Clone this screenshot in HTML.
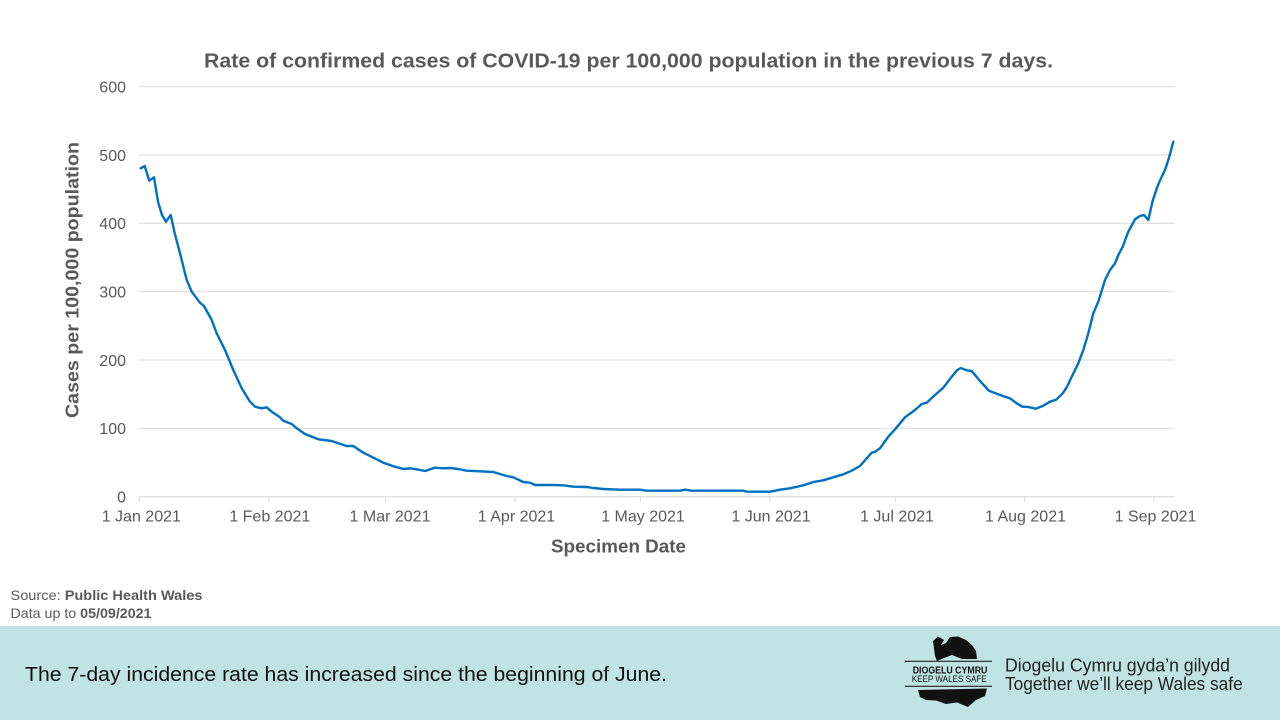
<!DOCTYPE html>
<html>
<head>
<meta charset="utf-8">
<style>
  html,body{margin:0;padding:0;background:#ffffff;}
  body{width:1280px;height:720px;overflow:hidden;position:relative;}
  svg{position:absolute;left:0;top:0;}
</style>
</head>
<body>
<svg width="1280" height="720" viewBox="0 0 1280 720" xmlns="http://www.w3.org/2000/svg">
  <rect x="0" y="0" width="1280" height="720" fill="#ffffff"/>

  <!-- Title -->
  <text x="204" y="67.3" font-family="Liberation Sans, Arial, sans-serif" font-weight="bold" font-size="20" fill="#595959" textLength="849" lengthAdjust="spacingAndGlyphs">Rate of confirmed cases of COVID-19  per 100,000 population in the previous 7 days.</text>

  <!-- Gridlines -->
  <g stroke="#d9d9d9" stroke-width="1">
    <line x1="139" y1="86.7" x2="1175" y2="86.7"/>
    <line x1="139" y1="155" x2="1175" y2="155"/>
    <line x1="139" y1="223.3" x2="1175" y2="223.3"/>
    <line x1="139" y1="291.7" x2="1175" y2="291.7"/>
    <line x1="139" y1="360" x2="1175" y2="360"/>
    <line x1="139" y1="428.3" x2="1175" y2="428.3"/>
    <line x1="139" y1="496.7" x2="1175" y2="496.7"/>
    <!-- ticks -->
    <line x1="139.3" y1="496.7" x2="139.3" y2="502"/>
    <line x1="268.8" y1="496.7" x2="268.8" y2="502"/>
    <line x1="385.7" y1="496.7" x2="385.7" y2="502"/>
    <line x1="515.1" y1="496.7" x2="515.1" y2="502"/>
    <line x1="640.4" y1="496.7" x2="640.4" y2="502"/>
    <line x1="769.9" y1="496.7" x2="769.9" y2="502"/>
    <line x1="895.2" y1="496.7" x2="895.2" y2="502"/>
    <line x1="1024.6" y1="496.7" x2="1024.6" y2="502"/>
    <line x1="1154.1" y1="496.7" x2="1154.1" y2="502"/>
  </g>

  <!-- Y labels -->
  <g font-family="Liberation Sans, Arial, sans-serif" font-size="16" fill="#595959" text-anchor="end">
    <text x="126" y="92.5">600</text>
    <text x="126" y="160.8">500</text>
    <text x="126" y="229.1">400</text>
    <text x="126" y="297.5">300</text>
    <text x="126" y="365.8">200</text>
    <text x="126" y="434.1">100</text>
    <text x="126" y="502.5">0</text>
  </g>

  <!-- X labels -->
  <g font-family="Liberation Sans, Arial, sans-serif" font-size="16" fill="#595959" text-anchor="middle">
    <text x="141.3" y="521.5">1 Jan 2021</text>
    <text x="269.8" y="521.5">1 Feb 2021</text>
    <text x="390" y="521.5">1 Mar 2021</text>
    <text x="516.5" y="521.5">1 Apr 2021</text>
    <text x="643" y="521.5">1 May 2021</text>
    <text x="771" y="521.5">1 Jun 2021</text>
    <text x="897" y="521.5">1 Jul 2021</text>
    <text x="1025.5" y="521.5">1 Aug 2021</text>
    <text x="1155.5" y="521.5">1 Sep 2021</text>
  </g>

  <!-- Axis titles -->
  <text x="551" y="552.5" font-family="Liberation Sans, Arial, sans-serif" font-weight="bold" font-size="18" fill="#595959" textLength="135" lengthAdjust="spacingAndGlyphs">Specimen Date</text>
  <text transform="translate(78.5,418) rotate(-90)" x="0" y="0" font-family="Liberation Sans, Arial, sans-serif" font-weight="bold" font-size="18" fill="#595959" textLength="276" lengthAdjust="spacingAndGlyphs">Cases per 100,000 population</text>

  <!-- Data line -->
  <polyline fill="none" stroke="#0070c0" stroke-width="2.4" stroke-linejoin="round" stroke-linecap="round" points="
140.7,168.3 144.7,166 149.3,180.7 154,177.3 158,201.7 162,215 166,221.7 170.7,215 174.7,233.3 180,253.3
186.7,280 191.7,291.7 200,302.7 204,306 211.7,320 216.7,333.3 225,350 233.3,370 241.7,388.3 250,401.7
255,406.7 261.7,408.3 266.7,407.3 271.7,411.7 279.3,416.7 283.3,420.7 291.7,424 296.7,428.3 305,434
318.3,439.3 331.7,441 346.7,446 353.3,446 363.3,452.7 376.7,459.3 383.3,462.7 395,466.7 403.3,469
410,468.3 416.7,469.3 425,471 435,467.7 443.3,468.3 450,468 458.3,469 466.7,470.7 480,471.3 493.3,472
506.7,476 513.3,477.3 523.3,482 530,482.7 535,485 553.3,485 563.3,485.3 573.3,486.7 586.7,487
593.3,488 603.3,489 620,489.7 640,489.7 646.7,490.7 680,490.7 685,489.7 691.7,490.7 743.3,490.7
746.7,491.7 770,491.7 780,489.7 790,488.3 803.3,485.3 813.3,482 823.3,480.3 833.3,477.3 843.3,474.3
851.7,470.7 860,466 866.7,458.3 871.7,452.7 875,451.7 880,448.3 888.3,436.7 895,429.3 905,417.3
915,410 921.7,404 926.7,402.7 935,395 943.3,387.7 951.7,376.7 957.3,370 960.7,368 966.7,370.3
971.7,371 980,381 989,390.7 996.7,393.7 1005,396.7 1010,398.3 1016.7,403.3 1022.3,406.7 1028.3,407
1035.7,408.7 1043.3,405.7 1050,401.7 1056,399.8 1062.7,393.3 1066.7,387.3 1071.7,376.7 1078.3,363.3
1083.3,350 1088.3,333.3 1093.3,313.3 1098.3,301.7 1105,280 1110,270 1115,263.3 1118.3,255
1122.7,246.7 1128.3,231.7 1135,219.3 1140,216 1144,215 1148.3,220 1152.7,200.7 1157.3,186.7
1161.7,176.7 1165,170 1169.3,156.7 1173.3,141.7"/>

  <!-- Source -->
  <text x="10.5" y="600" font-family="Liberation Sans, Arial, sans-serif" font-size="14" fill="#595959" textLength="192" lengthAdjust="spacingAndGlyphs">Source: <tspan font-weight="bold">Public Health Wales</tspan></text>
  <text x="10.5" y="618" font-family="Liberation Sans, Arial, sans-serif" font-size="14" fill="#595959" textLength="141" lengthAdjust="spacingAndGlyphs">Data up to <tspan font-weight="bold">05/09/2021</tspan></text>

  <!-- Bottom band -->
  <rect x="0" y="626" width="1280" height="94" fill="#c0e3e3"/>
  <text x="25" y="681" font-family="Liberation Sans, Arial, sans-serif" font-size="20" fill="#111111" textLength="642" lengthAdjust="spacingAndGlyphs">The 7-day incidence rate has increased since the beginning  of June.</text>

  <!-- Logo -->
  <path d="M933,641 L938,636.5 L944,640 L941,645 L946,643 L950,637 L958,636.5 L966,640 L972,645 L976,651 L977,659 L962,659 L952,655 L944,658 L937,661 L935,656 Z" fill="#111"/>
  <line x1="905" y1="661.3" x2="992" y2="661.3" stroke="#222" stroke-width="1.2"/>
  <line x1="905" y1="686.3" x2="992" y2="686.3" stroke="#222" stroke-width="1.2"/>
  <text x="912.7" y="673.7" font-family="Liberation Sans, Arial, sans-serif" font-weight="bold" font-size="10" fill="#111" textLength="74.7" lengthAdjust="spacingAndGlyphs">DIOGELU CYMRU</text>
  <text x="911.7" y="682" font-family="Liberation Sans, Arial, sans-serif" font-size="9.5" fill="#111" textLength="75" lengthAdjust="spacingAndGlyphs">KEEP WALES SAFE</text>
  <path d="M918,690 L987,688.5 L985,696 L976,700 L968,707 L957,702.5 L946,704 L936,700.5 L926,700 L920,697 Z" fill="#111"/>

  <text x="1005" y="671.7" font-family="Liberation Sans, Arial, sans-serif" font-size="18" fill="#222" textLength="225" lengthAdjust="spacingAndGlyphs">Diogelu Cymru gyda’n gilydd</text>
  <text x="1005" y="690" font-family="Liberation Sans, Arial, sans-serif" font-size="18" fill="#222" textLength="237.7" lengthAdjust="spacingAndGlyphs">Together we’ll keep Wales safe</text>
</svg>
</body>
</html>
